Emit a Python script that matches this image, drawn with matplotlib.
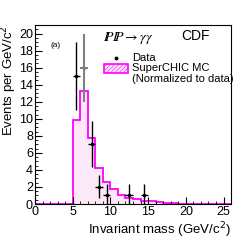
import numpy as np
import matplotlib.pyplot as plt
from matplotlib.ticker import MultipleLocator

plt.rcParams['font.family'] = ['Liberation Sans', 'DejaVu Sans']
plt.rcParams['hatch.color'] = '#ff77e0'
plt.rcParams['hatch.linewidth'] = 0.4

# MC histogram (bin edges 0..26, width 1)
mc_edges = np.arange(0, 27, 1)
mc_counts = np.array([0, 0, 0, 0, 0, 9.8, 13.2, 7.7, 4.2, 2.6, 1.8, 1.1, 0.7,
                      0.6, 0.35, 0.3, 0.2, 0.15, 0.1, 0.05, 0.05, 0.05, 0.05,
                      0.05, 0.05, 0.05])

# data points
data_x = np.array([5.5, 6.5, 7.5, 8.5, 9.5, 12.5, 14.5])
data_y = np.array([15, 16, 7, 2, 1, 1, 1])
err_lo = np.array([4.0, 4.0, 2.6, 1.3, 1.0, 1.0, 1.0])
err_hi = np.array([4.0, 4.0, 2.7, 1.4, 1.3, 1.3, 1.3])

fig = plt.figure(figsize=(2.49, 2.41), dpi=100)
ax = fig.add_axes([0.1406, 0.1535, 0.7874, 0.7427])

ax.stairs(mc_counts, mc_edges, fill=True, facecolor='#fde8f8', edgecolor='none',
          hatch='////////')
ax.stairs(mc_counts, mc_edges, color='#ff00ff', linewidth=1.3, baseline=None)

colors = ['black', 'gray', 'black', 'black', 'black', 'black', 'black']
for i in range(len(data_x)):
    ax.errorbar(data_x[i], data_y[i], xerr=0.5,
                yerr=[[err_lo[i]], [err_hi[i]]], fmt='o', ms=1.5,
                color=colors[i], elinewidth=1.0 if i != 1 else 1.5, capsize=0)

ax.set_xlim(0, 26)
ax.set_ylim(0, 21)
ax.xaxis.set_major_locator(MultipleLocator(5))
ax.xaxis.set_minor_locator(MultipleLocator(1))
ax.yaxis.set_major_locator(MultipleLocator(2))
ax.yaxis.set_minor_locator(MultipleLocator(0.5))
ax.tick_params(which='both', direction='in', labelsize=9, pad=1.5)
ax.tick_params(which='major', length=5)
ax.tick_params(which='minor', length=2.5)
ax.set_xlabel('Invariant mass (GeV/c$^2$)', fontsize=9.5, loc='right', labelpad=2)
ax.set_ylabel('Events per GeV/c$^2$', fontsize=9.5, loc='top', labelpad=0)

ax.text(0.077, 0.888, '(a)', transform=ax.transAxes, fontsize=6, va='center')
ax.text(0.347, 0.927, r'$I\!\!P I\!\!P \rightarrow \gamma\gamma$', transform=ax.transAxes,
        fontsize=10, va='center', math_fontfamily='stix')
ax.text(0.745, 0.936, 'CDF', transform=ax.transAxes, fontsize=10, va='center')

# legend
ax.plot([0.413], [0.816], 'o', ms=1.8, color='black', transform=ax.transAxes)
ax.text(0.495, 0.816, 'Data', transform=ax.transAxes, fontsize=8, va='center')
ax.add_patch(plt.Rectangle((0.352, 0.732), 0.122, 0.05, transform=ax.transAxes,
                           facecolor='#fde8f8', edgecolor='#ff00ff', lw=1.2,
                           hatch='////////'))
ax.text(0.495, 0.76, 'SuperCHIC MC', transform=ax.transAxes, fontsize=8, va='center')
ax.text(0.495, 0.698, '(Normalized to data)', transform=ax.transAxes, fontsize=8,
        va='center')

fig.savefig('out.png', dpi=100)
